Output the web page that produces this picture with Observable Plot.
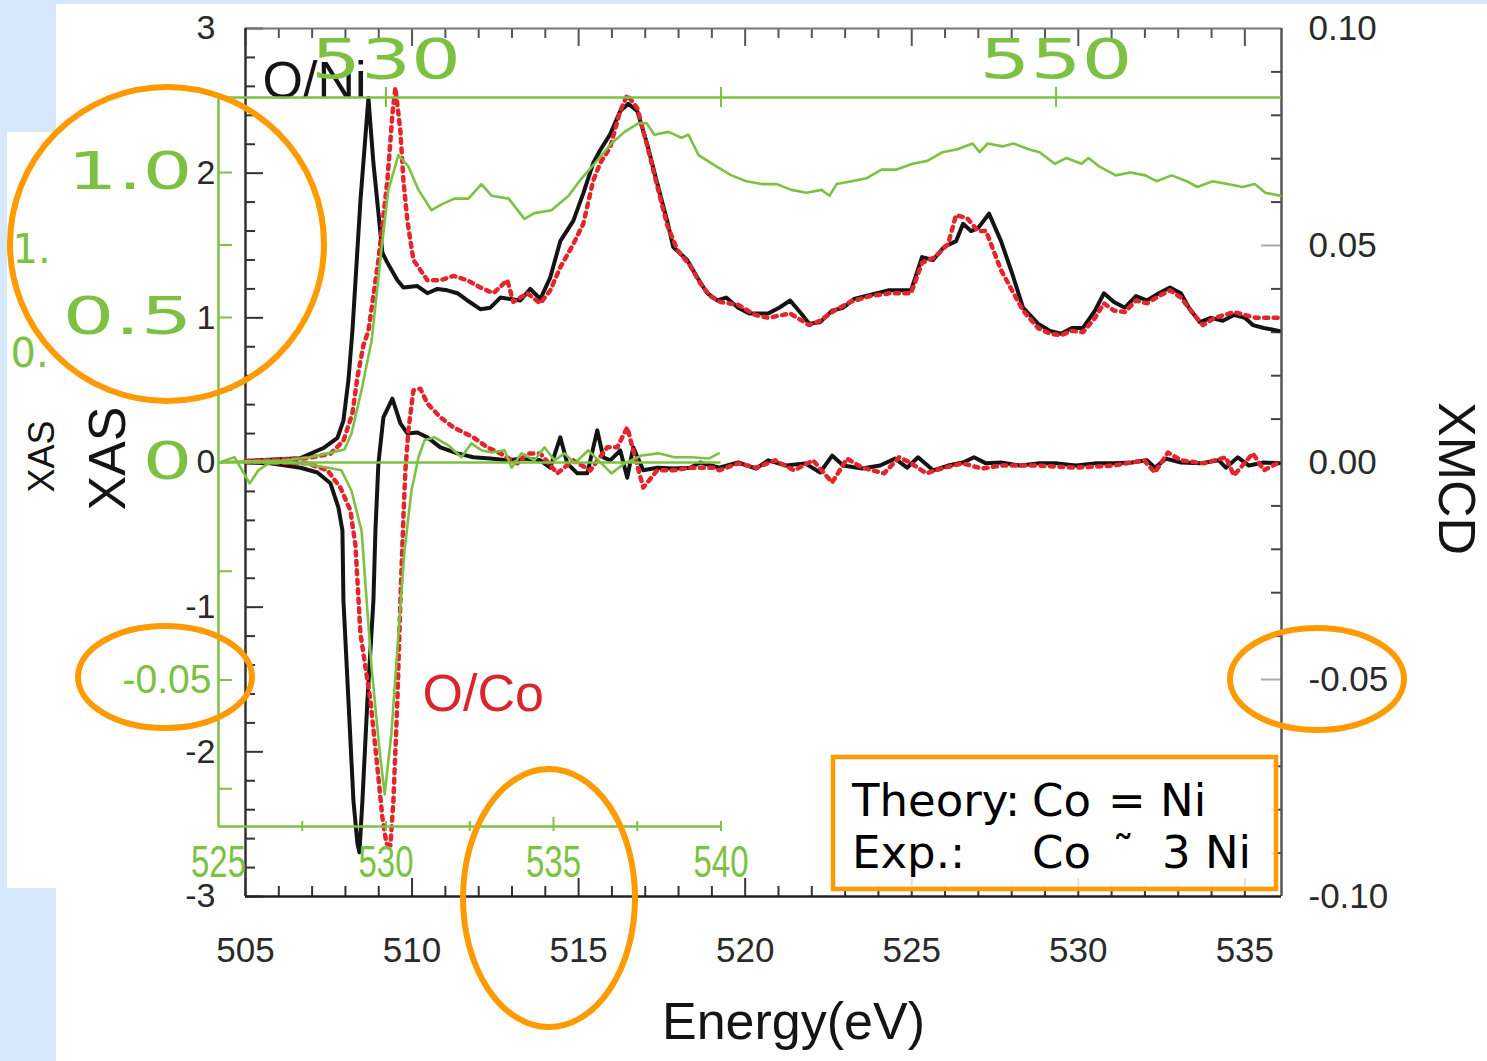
<!DOCTYPE html>
<html><head><meta charset="utf-8">
<script src="https://cdn.jsdelivr.net/npm/d3@7"></script>
<script src="https://cdn.jsdelivr.net/npm/@observablehq/plot@0.6"></script>
<style>
html,body{margin:0;padding:0;}
body{width:1487px;height:1061px;background:#d5e8fc;position:relative;overflow:hidden;font-family:"Liberation Sans",Arial,sans-serif;}
.panel{position:absolute;background:#fff;}
.layer{position:absolute;left:0;top:0;}
</style></head><body>
<div class="panel" style="left:56px;top:4px;width:1431px;height:1057px"></div>
<div class="panel" style="left:7px;top:132px;width:49px;height:756px"></div>
<div id="main" class="layer"></div>
<div id="inset" class="layer"></div>
<div id="notes" class="layer"></div>
<script>
// ---------------- DATA ----------------
// main axes: Energy (eV) 505–536, XAS left axis, XMCD right axis
const energyTicks = [505, 510, 515, 520, 525, 530, 535];
const xasTicks = [-3, -2, -1, 0, 1, 2, 3];
const xmcdTicks = [-0.10, -0.05, 0.00, 0.05, 0.10];
const xmcdTickLabels = ["-0.10", "-0.05", "0.00", "0.05", "0.10"];
// inset (green) axes
const insetTopTicks = [530, 550];
const insetBottomTicks = [525, 530, 535, 540];
const insetLeftTicks = [1.0, 0.5, 0];
const insetLeftTickLabels = ["1.0", "0.5", "0"];
const insetXmcdTicks = [-0.05];
const insetXmcdTickLabels = ["-0.05"];

// O/Ni XAS (black) [energy, XAS]
const niXAS = [[505.0,0.01],[506.65,0.03],[507.34,0.10],[507.76,0.17],[507.94,0.29],[508.09,0.57],[508.21,0.91],[508.45,1.81],[508.69,2.52],[508.84,2.07],[509.11,1.45],[509.26,1.38],[509.56,1.26],[509.74,1.21],[510.16,1.22],[510.46,1.17],[510.76,1.20],[511.06,1.19],[511.36,1.17],[511.66,1.12],[512.05,1.06],[512.35,1.07],[512.65,1.14],[512.95,1.13],[513.25,1.12],[513.55,1.20],[513.85,1.13],[514.15,1.28],[514.45,1.53],[514.84,1.67],[515.14,1.86],[515.44,2.07],[515.65,2.16],[515.95,2.27],[516.25,2.43],[516.49,2.48],[516.76,2.43],[517.06,2.20],[517.36,1.93],[517.66,1.67],[517.84,1.49],[518.26,1.40],[518.56,1.28],[518.86,1.17],[519.16,1.12],[519.43,1.14],[519.79,1.07],[520.12,1.03],[520.69,1.03],[521.02,1.07],[521.35,1.12],[521.68,1.03],[521.92,0.96],[522.25,0.97],[522.61,1.05],[522.94,1.07],[523.27,1.13],[523.60,1.15],[523.96,1.17],[524.29,1.19],[524.98,1.19],[525.31,1.42],[525.64,1.40],[525.97,1.49],[526.33,1.53],[526.54,1.65],[526.78,1.60],[526.99,1.62],[527.32,1.72],[527.68,1.53],[528.01,1.31],[528.34,1.07],[528.79,0.96],[529.15,0.91],[529.48,0.89],[529.81,0.93],[530.14,0.93],[530.50,1.05],[530.77,1.17],[531.07,1.11],[531.40,1.07],[531.73,1.15],[532.06,1.12],[532.42,1.17],[532.75,1.21],[533.08,1.17],[533.32,1.07],[533.65,0.97],[533.98,1.00],[534.34,0.98],[534.67,1.02],[535.00,1.00],[535.24,0.95],[535.57,0.93],[536.02,0.91]];

// O/Co XAS (red dotted)
const coXAS = [[505.0,0.01],[506.86,0.03],[507.55,0.06],[507.94,0.15],[508.21,0.34],[508.36,0.59],[508.54,0.81],[508.69,0.91],[508.99,1.40],[509.26,1.95],[509.41,2.41],[509.50,2.59],[509.65,2.29],[509.74,1.95],[509.86,1.67],[510.04,1.40],[510.46,1.26],[510.85,1.26],[511.24,1.29],[511.66,1.26],[512.05,1.21],[512.44,1.17],[512.86,1.26],[513.04,1.11],[513.46,1.17],[513.85,1.10],[514.15,1.19],[514.45,1.35],[514.84,1.51],[515.14,1.65],[515.44,1.95],[515.65,2.07],[515.95,2.18],[516.25,2.43],[516.46,2.54],[516.76,2.45],[517.06,2.19],[517.36,1.91],[517.66,1.64],[517.96,1.47],[518.35,1.36],[518.65,1.24],[518.95,1.15],[519.25,1.11],[519.79,1.09],[520.30,1.02],[520.69,1.00],[521.35,1.03],[521.92,0.95],[522.25,0.98],[522.61,1.04],[523.15,1.11],[523.75,1.15],[524.35,1.17],[524.98,1.17],[525.31,1.38],[525.70,1.42],[526.09,1.51],[526.33,1.71],[526.66,1.69],[526.99,1.60],[527.23,1.60],[527.68,1.33],[528.01,1.19],[528.34,1.05],[528.79,0.93],[529.15,0.89],[529.48,0.88],[529.81,0.91],[530.14,0.90],[530.50,1.00],[530.77,1.10],[531.07,1.05],[531.40,1.04],[531.73,1.12],[532.06,1.10],[532.42,1.15],[532.75,1.19],[533.08,1.14],[533.41,1.04],[533.74,0.95],[534.10,1.00],[534.67,1.04],[535.33,1.00],[536.02,1.00]];

// O/Ni XMCD (black) [energy, XMCD]
const niXMCD = [[505.0,0],[505.75,-0.0002],[506.65,-0.0012],[507.16,-0.0023],[507.55,-0.0048],[507.79,-0.0104],[507.91,-0.0157],[507.94,-0.0318],[508.09,-0.0548],[508.24,-0.0779],[508.36,-0.0878],[508.42,-0.0898],[508.51,-0.0779],[508.66,-0.0548],[508.84,-0.0318],[508.90,-0.0157],[508.99,-0.0002],[509.14,0.0104],[509.41,0.0147],[509.65,0.0090],[509.86,0.0067],[510.16,0.0069],[510.46,0.0058],[510.85,0.0035],[511.36,0.0021],[511.84,0.0012],[512.35,0.0009],[512.86,0.0005],[513.34,0.0009],[513.85,0.0005],[514.15,-0.0012],[514.45,0.0058],[514.66,-0.0002],[514.96,-0.0025],[515.26,-0.0025],[515.56,0.0074],[515.74,0.0012],[515.95,0.0005],[516.25,0.0028],[516.46,-0.0035],[516.64,0.0035],[516.94,-0.0018],[517.36,-0.0012],[517.84,-0.0014],[518.35,-0.0012],[518.65,0],[519.22,-0.0012],[519.79,0],[520.33,-0.0014],[520.69,0.0005],[521.23,-0.0007],[521.80,-0.0002],[522.25,-0.0023],[522.61,0.0016],[522.94,-0.0007],[523.51,-0.0014],[524.05,-0.0007],[524.50,0.0009],[524.86,-0.0012],[525.19,0.0012],[525.64,-0.0018],[526.09,-0.0007],[526.54,0],[526.87,0.0012],[527.23,-0.0002],[527.68,0],[528.25,-0.0007],[528.79,-0.0002],[529.36,-0.0002],[529.93,-0.0007],[530.50,-0.0002],[531.07,-0.0002],[531.61,0],[532.06,0.0005],[532.30,-0.0012],[532.63,0.0009],[533.08,0],[533.65,-0.0002],[534.22,0.0005],[534.43,-0.0012],[534.79,0.0012],[535.12,-0.0007],[535.57,0],[536.02,-0.0002]];

// O/Co XMCD (red dotted)
const coXMCD = [[505.0,0.0002],[505.75,0],[506.86,-0.0002],[507.46,-0.0018],[507.85,-0.0058],[508.15,-0.0111],[508.30,-0.0191],[508.45,-0.0394],[508.75,-0.0548],[508.96,-0.0703],[509.11,-0.0818],[509.23,-0.0878],[509.35,-0.0882],[509.44,-0.0779],[509.56,-0.0548],[509.65,-0.0318],[509.74,-0.0127],[509.80,-0.0018],[509.89,0.0074],[510.04,0.0166],[510.25,0.0170],[510.46,0.0136],[510.85,0.0104],[511.24,0.0081],[511.84,0.0058],[512.26,0.0035],[512.65,0.0021],[513.16,-0.0002],[513.46,0.0021],[513.85,0.0021],[514.36,-0.0025],[514.84,0.0005],[515.35,-0.0018],[515.86,0.0035],[516.16,0.0035],[516.46,0.0081],[516.64,0.0028],[516.94,-0.0058],[517.36,-0.0018],[517.84,-0.0018],[518.35,-0.0012],[519.04,-0.0012],[519.22,-0.0018],[519.79,-0.0002],[520.33,-0.0012],[520.90,0.0005],[521.47,-0.0018],[522.04,0.0005],[522.37,-0.0025],[522.61,-0.0046],[523.06,0.0009],[523.51,-0.0012],[524.17,-0.0025],[524.62,0.0012],[524.95,0],[525.43,-0.0025],[525.97,-0.0012],[526.54,-0.0002],[527.11,-0.0014],[527.68,-0.0007],[528.79,-0.0007],[529.93,-0.0012],[531.07,-0.0007],[531.97,0.0005],[532.30,-0.0023],[532.69,0.0023],[533.08,0.0005],[533.77,-0.0002],[534.43,0.0012],[534.67,-0.0030],[535.24,0.0021],[535.57,-0.0018],[536.02,0]];

// Theory (green inset) XAS [energy, XAS]
const greenXAS = [[525.03,0.00],[525.48,0.003],[526.88,0.007],[527.69,0.017],[528.37,0.034],[528.76,0.045],[528.97,0.10],[529.27,0.25],[529.57,0.42],[529.87,0.74],[530.07,0.94],[530.37,1.06],[530.67,1.02],[530.97,0.94],[531.36,0.87],[531.66,0.89],[532.04,0.91],[532.46,0.91],[532.85,0.96],[533.15,0.92],[533.66,0.91],[534.13,0.84],[534.43,0.86],[534.94,0.87],[535.45,0.92],[535.84,0.98],[536.22,1.03],[536.73,1.10],[537.12,1.14],[537.54,1.17],[537.78,1.17],[538.01,1.13],[538.43,1.14],[538.82,1.12],[539.03,1.13],[539.33,1.06],[539.87,1.02],[540.31,0.99],[540.76,0.97],[541.21,0.96],[541.66,0.96],[542.10,0.94],[542.55,0.93],[543.00,0.94],[543.24,0.92],[543.45,0.96],[543.90,0.97],[544.34,0.98],[544.79,1.01],[545.24,1.01],[545.72,1.03],[546.16,1.04],[546.61,1.07],[547.06,1.08],[547.51,1.10],[547.72,1.07],[547.96,1.10],[548.40,1.09],[548.73,1.10],[549.18,1.08],[549.51,1.07],[549.96,1.03],[550.31,1.05],[550.76,1.03],[550.97,1.05],[551.30,1.02],[551.78,0.99],[552.22,1.00],[552.67,0.99],[553.00,0.97],[553.45,0.99],[553.90,0.97],[554.22,0.95],[554.67,0.97],[555.12,0.96],[555.57,0.95],[555.93,0.96],[556.25,0.93],[556.70,0.92]];

// Theory (green inset) XMCD [energy, XMCD]
const greenXMCD = [[525.03,0],[525.48,0.0012],[525.93,-0.0048],[526.19,-0.0018],[526.49,-0.0002],[526.97,0],[527.48,-0.0002],[527.87,-0.0007],[528.28,-0.0012],[528.67,-0.0018],[528.97,-0.0065],[529.27,-0.0157],[529.57,-0.0472],[529.81,-0.0664],[529.96,-0.0763],[530.16,-0.0624],[530.37,-0.0394],[530.55,-0.0203],[530.76,-0.0065],[530.97,0.0012],[531.15,0.0051],[531.45,0.0058],[531.87,0.0039],[532.25,0.0012],[532.55,0.0044],[532.85,0.0028],[533.15,0.0023],[533.54,0.0028],[533.75,-0.0012],[534.04,0.0021],[534.43,0.0005],[534.73,0.0035],[535.03,0.0005],[535.33,0.0021],[535.63,-0.0002],[536.04,0.0028],[536.43,-0.0002],[536.73,-0.0025],[537.12,-0.0002],[537.63,0.0016],[538.13,0.0021],[538.61,0.0012],[539.12,0.0012],[539.63,0.0009],[539.93,0.0021]];

// scale factors between XMCD and XAS axes
const XMCD_MAIN = 30;   // right axis 0.10 <-> left axis 3
const XMCD_INSET = 15;  // inset -0.05 <-> inset XAS -0.75

// ---------------- STYLE ----------------
const W = 1487, H = 1061;
const GREEN = "#7cc142", RED = "#e2262c", BLACK = "#141414", TXT = "#2a2a2a";
const mL = 245, mR = 206, mT = 28, mB = 165;
const innerW = W - mL - mR, innerH = H - mT - mB;

const minorE = d3.range(506, 536).filter(e => e % 5 !== 0);
const minorY = d3.range(-14, 15).map(i => +(i * 0.2).toFixed(1)).filter(v => !Number.isInteger(v));
const rightMinor = d3.range(-9, 10).map(i => +(i * 0.3).toFixed(1)).filter(v => Math.abs(v) !== 1.5);

const main = Plot.plot({
  width: W, height: H,
  marginLeft: mL, marginRight: mR, marginTop: mT, marginBottom: mB,
  x: {domain: [505, 536.1]},
  y: {domain: [-3, 3]},
  style: {background: "transparent", fontFamily: "Liberation Sans, Arial, sans-serif", overflow: "visible"},
  marks: [
    // inward ticks
    Plot.tickX(minorE, {insetTop: innerH - 10, stroke: "#333", strokeWidth: 2}),
    Plot.tickX(energyTicks, {insetTop: innerH - 18, stroke: "#333", strokeWidth: 2}),
    Plot.tickX(minorE, {insetBottom: innerH - 10, stroke: "#555", strokeWidth: 2}),
    Plot.tickX(energyTicks, {insetBottom: innerH - 18, stroke: "#555", strokeWidth: 2}),
    Plot.tickY(minorY, {insetRight: innerW - 10, stroke: "#333", strokeWidth: 2}),
    Plot.tickY(xasTicks, {insetRight: innerW - 18, stroke: "#333", strokeWidth: 2}),
    Plot.tickY(rightMinor, {insetLeft: innerW - 10, stroke: "#444", strokeWidth: 2}),
    Plot.tickY([-0.05, 0.05].map(v => v * XMCD_MAIN), {insetLeft: innerW - 20, stroke: "#aaa", strokeWidth: 2}),
    // frame
    Plot.ruleY([3], {stroke: "#777", strokeWidth: 2}),
    Plot.ruleX([536.1], {stroke: "#555", strokeWidth: 2.5}),
    Plot.ruleX([505], {stroke: "#333", strokeWidth: 2.5}),
    Plot.ruleY([-3], {stroke: "#222", strokeWidth: 2.5}),
    // axes
    Plot.axisX({anchor: "bottom", ticks: energyTicks, tickSize: 0, tickPadding: 41, fontSize: 35, fill: TXT, tickFormat: d => String(d), label: null}),
    Plot.axisY({anchor: "left", ticks: xasTicks, tickSize: 0, tickPadding: 30, fontSize: 34, fill: TXT, tickFormat: d => String(d), label: null}),
    Plot.axisY({anchor: "right", ticks: xmcdTicks.map(v => v * XMCD_MAIN), tickSize: 0, tickPadding: 27, fontSize: 35, fill: TXT,
      tickFormat: d => xmcdTickLabels[xmcdTicks.findIndex(t => Math.abs(t * XMCD_MAIN - d) < 1e-6)], label: null}),
    // curves
    Plot.line(niXAS, {x: d => d[0], y: d => d[1], stroke: BLACK, strokeWidth: 4}),
    Plot.line(niXMCD, {x: d => d[0], y: d => d[1] * XMCD_MAIN, stroke: BLACK, strokeWidth: 4}),
    Plot.line(coXAS, {x: d => d[0], y: d => d[1], stroke: RED, strokeWidth: 4.5, strokeDasharray: "4,5.5"}),
    Plot.line(coXMCD, {x: d => d[0], y: d => d[1] * XMCD_MAIN, stroke: RED, strokeWidth: 4.5, strokeDasharray: "4,5.5"}),
    // labels
    Plot.text(["O/Ni"], {text: d => d, frameAnchor: "top-left", dx: 17, dy: 69, textAnchor: "start", lineAnchor: "bottom", fontSize: 52, fill: BLACK}),
    Plot.text(["O/Co"], {text: d => d, frameAnchor: "top-left", dx: 177, dy: 682, textAnchor: "start", lineAnchor: "bottom", fontSize: 52, fill: "#d8262d"}),
    Plot.text(["XAS"], {text: d => d, frameAnchor: "left", dx: -137, dy: -4, rotate: -90, textAnchor: "middle", lineAnchor: "middle", fontSize: 52, fill: BLACK}),
    Plot.text(["XAS"], {text: d => d, frameAnchor: "left", dx: -203, dy: -6, rotate: -90, textAnchor: "middle", lineAnchor: "middle", fontSize: 36, fill: BLACK}),
    Plot.text(["XMCD"], {text: d => d, frameAnchor: "right", dx: 174, dy: 16, rotate: 90, textAnchor: "middle", lineAnchor: "middle", fontSize: 52, fill: BLACK}),
    Plot.text(["Energy(eV)"], {text: d => d, frameAnchor: "bottom", dx: 30, dy: 142, textAnchor: "middle", lineAnchor: "bottom", fontSize: 52, fill: BLACK}),
    Plot.text(["1."], {text: d => d, frameAnchor: "top-left", dx: -233, dy: 234, textAnchor: "start", lineAnchor: "bottom", fontSize: 40, fill: GREEN, fontFamily: "DejaVu Sans"}),
    Plot.text(["0."], {text: d => d, frameAnchor: "top-left", dx: -235, dy: 338, textAnchor: "start", lineAnchor: "bottom", fontSize: 40, fill: GREEN, fontFamily: "DejaVu Sans"})
  ]
});
document.getElementById("main").appendChild(main);

// ---------------- GREEN INSET (theory) ----------------
const iL = 218, iR = 206, iT = 97, iB = 235;
const iW = W - iL - iR, iH = H - iT - iB;
const iTop = 1.2586, iBottom = -1.2552, iEmax = 556.73;
const inset = Plot.plot({
  width: W, height: H,
  marginLeft: iL, marginRight: iR, marginTop: iT, marginBottom: iB,
  x: {domain: [525, iEmax]},
  y: {domain: [iBottom, iTop]},
  style: {background: "transparent", fontFamily: "DejaVu Sans, sans-serif", overflow: "visible"},
  marks: [
    Plot.ruleY([iTop], {stroke: GREEN, strokeWidth: 2.5}),
    Plot.ruleX([525], {stroke: GREEN, strokeWidth: 2.5}),
    Plot.ruleY([iBottom], {x1: 525, x2: 540, stroke: GREEN, strokeWidth: 2.5}),
    Plot.ruleY([0], {x1: 525, x2: 540, stroke: GREEN, strokeWidth: 2.5}),
    Plot.tickX([530, 540, 550], {insetTop: -10, insetBottom: iH - 10, stroke: GREEN, strokeWidth: 2}),
    Plot.tickX([527.5, 530, 532.5, 537.5, 540], {insetTop: iH - 5, insetBottom: -5, stroke: GREEN, strokeWidth: 2}),
    Plot.tickX([535], {insetTop: iH - 9, insetBottom: -5, stroke: GREEN, strokeWidth: 2}),
    Plot.tickY([1, 0.75, 0.5, 0.25, -0.375, -0.75, -1.125], {insetRight: iW - 14, stroke: GREEN, strokeWidth: 2}),
    Plot.line(greenXAS, {x: d => d[0], y: d => d[1], stroke: GREEN, strokeWidth: 2.6}),
    Plot.line(greenXMCD, {x: d => d[0], y: d => d[1] * XMCD_INSET, stroke: GREEN, strokeWidth: 2.6}),
    Plot.axisX({anchor: "top", ticks: insetTopTicks, tickSize: 0, tickPadding: 20, fontSize: 55, fill: GREEN, fontFamily: "DejaVu Sans", tickFormat: d => String(d), label: null}),
    Plot.axisX({anchor: "bottom", ticks: insetBottomTicks, tickSize: 0, tickPadding: 19, fontSize: 44, fill: GREEN, fontFamily: "Liberation Sans", tickFormat: d => String(d), label: null}),
    Plot.axisY({anchor: "left", ticks: insetLeftTicks, tickSize: 0, tickPadding: 26, fontSize: 52, fill: GREEN, fontFamily: "DejaVu Sans",
      tickFormat: d => insetLeftTickLabels[insetLeftTicks.indexOf(d)], label: null}),
    Plot.axisY({anchor: "left", ticks: insetXmcdTicks.map(v => v * XMCD_INSET), tickSize: 0, tickPadding: 7, fontSize: 40, fill: GREEN, fontFamily: "Liberation Sans",
      tickFormat: () => insetXmcdTickLabels[0], label: null})
  ]
});
document.getElementById("inset").appendChild(inset);
// stretch / condense green labels like the original artwork
d3.select(inset).selectAll("text").each(function () {
  const g = this.closest("[font-size]");
  const fs = g ? +g.getAttribute("font-size") : 0;
  const t = this.textContent;
  let L = null;
  if (fs === 55) L = {"530": 150, "550": 153}[t];
  else if (fs === 52) L = {"1.0": 125, "0.5": 130, "0": 50}[t];
  else if (fs === 44) L = 55;
  else if (fs === 40) L = 89;
  if (L) { this.setAttribute("textLength", L); this.setAttribute("lengthAdjust", "spacingAndGlyphs"); }
});

// ---------------- ANNOTATIONS (orange highlights + note box) ----------------
const highlightEllipses = [
  {cx: 167, cy: 244, rx: 157, ry: 157},
  {cx: 165, cy: 677, rx: 87, ry: 51},
  {cx: 549, cy: 898, rx: 86, ry: 129},
  {cx: 1317, cy: 679, rx: 87, ry: 51}
];
const noteBox = {x: 833, y: 757, w: 443, h: 132};
const noteLines = [
  [{t: "Theory:", x: 852}, {t: "Co", x: 1032}, {t: "=", x: 1108}, {t: "Ni", x: 1160}],
  [{t: "Exp.:", x: 852}, {t: "Co", x: 1032}, {t: "˜", x: 1112}, {t: "3 Ni", x: 1162}]
];
const noteBaselines = [816, 868];

const ORANGE = "#ff9a00";
const svg = d3.create("svg").attr("width", W).attr("height", H).style("display", "block");
svg.append("rect").attr("x", noteBox.x).attr("y", noteBox.y).attr("width", noteBox.w).attr("height", noteBox.h)
  .attr("fill", "white").attr("fill-opacity", 0.85).attr("stroke", ORANGE).attr("stroke-width", 4.5);
noteLines.forEach((line, i) => {
  line.forEach(p => {
    svg.append("text").attr("x", p.x).attr("y", noteBaselines[i]).text(p.t)
      .attr("font-family", "DejaVu Sans, Verdana, sans-serif").attr("font-size", 45).attr("fill", "#000");
  });
});
svg.selectAll("ellipse").data(highlightEllipses).join("ellipse")
  .attr("cx", d => d.cx).attr("cy", d => d.cy).attr("rx", d => d.rx).attr("ry", d => d.ry)
  .attr("fill", "none").attr("stroke", ORANGE).attr("stroke-width", 6);
document.getElementById("notes").appendChild(svg.node());
</script>
</body></html>
